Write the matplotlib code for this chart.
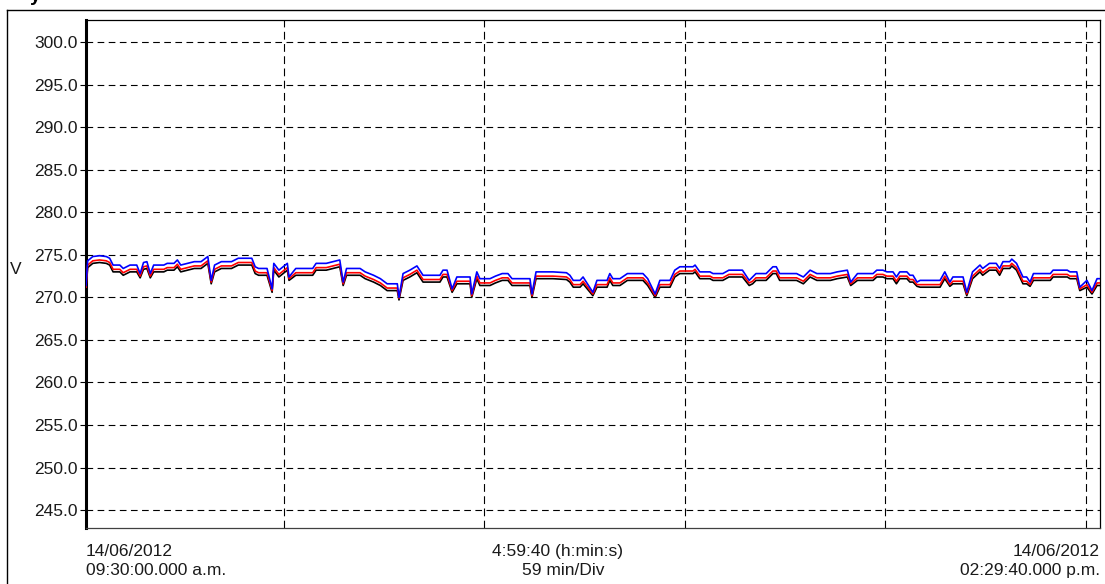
import matplotlib
matplotlib.use("Agg")
import matplotlib.pyplot as plt
from matplotlib.lines import Line2D

plt.rcParams['font.family'] = ['Liberation Sans', 'DejaVu Sans']

# time in minutes from 09:30:00
t_min = [0, 0.5, 2, 4, 6, 7, 8, 10, 11, 13,
         15, 16, 17, 18, 19, 20, 23, 24, 26, 27,
         28, 30, 32, 34, 36, 37, 38, 40, 43, 45,
         49, 50, 51, 53.5, 55, 55.5, 57, 59.5, 60, 62,
         67, 68, 71, 73, 75, 76, 77, 81, 82.5, 85,
         86, 87, 89, 92, 92.5, 93.7, 95.7, 97.8, 99.6, 104.6,
         105.5, 106.7, 108.2, 109.6, 113.5, 114, 115.5, 116.4, 119.4, 121,
         123, 124.7, 125.9, 131.2, 131.8, 133, 138, 142, 143, 144,
         146, 146.9, 149.8, 151, 154, 154.8, 155.7, 157.8, 160, 164.6,
         166, 168.2, 169.6, 172.6, 174, 175.5, 179.4, 180, 181.4, 184.4,
         185.3, 188.2, 190, 194, 196, 197, 198, 201, 203, 204,
         205, 210, 212, 214, 216, 220, 222, 225, 226, 228,
         232.6, 233.7, 235.5, 236.7, 238.5, 239.5, 240.5, 242.6, 243.5, 244.4,
         245.6, 246.5, 252.4, 253.8, 255.3, 256.2, 259.2, 260.3, 262, 264.2,
         265, 267, 269, 270, 271, 273, 273.6, 275, 276.9, 278,
         279, 280, 285, 285.8, 290, 290.8, 292.8, 293.7, 295.8, 297.3,
         298.8, 299.7]

v_blue = [271.4, 274.3, 274.8, 274.9, 274.8, 274.6, 273.8, 273.8, 273.4, 273.8,
          273.8, 272.8, 274.1, 274.2, 272.8, 273.8, 273.8, 274.0, 274.0, 274.4,
          273.8, 274.0, 274.2, 274.2, 274.8, 272.0, 273.8, 274.2, 274.2, 274.6,
          274.6, 273.6, 273.4, 273.4, 271.0, 274.0, 273.2, 274.0, 272.4, 273.4,
          273.4, 274.0, 274.0, 274.2, 274.4, 271.8, 273.4, 273.4, 273.0, 272.6,
          272.4, 272.2, 271.6, 271.6, 270.0, 272.8, 273.2, 273.7, 272.6, 272.6,
          273.2, 273.2, 271.0, 272.4, 272.4, 270.4, 273.0, 272.2, 272.2, 272.5,
          272.8, 272.8, 272.2, 272.2, 270.4, 273.0, 273.0, 272.9, 272.6, 272.0,
          272.0, 272.4, 270.6, 272.0, 272.0, 272.8, 272.2, 272.2, 272.8, 272.8,
          272.2, 270.4, 272.0, 272.0, 273.2, 273.6, 273.6, 273.8, 273.0, 273.0,
          272.8, 272.8, 273.2, 273.2, 272.0, 272.4, 272.8, 272.8, 273.6, 273.6,
          272.8, 272.8, 272.4, 273.2, 272.8, 272.8, 273.0, 273.2, 271.8, 272.8,
          272.8, 273.2, 273.2, 273.0, 273.0, 272.4, 273.0, 273.0, 272.6, 272.6,
          271.8, 272.0, 272.0, 273.0, 271.8, 272.4, 272.4, 270.6, 273.0, 273.8,
          273.4, 274.0, 274.0, 273.4, 274.2, 274.2, 274.5, 274.0, 272.4, 272.4,
          271.8, 272.8, 272.8, 273.2, 273.2, 273.0, 273.0, 271.2, 272.0, 270.8,
          272.2, 272.2]

v_red = [271.2, 273.8, 274.3, 274.4, 274.3, 274.1, 273.3, 273.3, 272.9, 273.3,
         273.3, 272.5, 273.6, 273.7, 272.5, 273.3, 273.3, 273.5, 273.5, 273.9,
         273.3, 273.5, 273.7, 273.7, 274.3, 271.8, 273.3, 273.7, 273.7, 274.1,
         274.1, 273.1, 272.9, 272.9, 270.8, 273.5, 272.7, 273.5, 272.2, 272.9,
         272.9, 273.5, 273.5, 273.7, 273.9, 271.6, 272.9, 272.9, 272.5, 272.1,
         271.9, 271.7, 271.1, 271.1, 269.9, 272.3, 272.7, 273.2, 272.1, 272.1,
         272.7, 272.7, 270.8, 271.9, 271.9, 270.2, 272.5, 271.7, 271.7, 272.0,
         272.3, 272.3, 271.7, 271.7, 270.2, 272.5, 272.5, 272.4, 272.1, 271.5,
         271.5, 271.9, 270.4, 271.5, 271.5, 272.3, 271.7, 271.7, 272.3, 272.3,
         271.7, 270.2, 271.5, 271.5, 272.7, 273.1, 273.1, 273.3, 272.5, 272.5,
         272.3, 272.3, 272.7, 272.7, 271.7, 271.9, 272.3, 272.3, 273.1, 273.1,
         272.3, 272.3, 271.9, 272.7, 272.3, 272.3, 272.5, 272.7, 271.6, 272.3,
         272.3, 272.7, 272.7, 272.5, 272.5, 271.9, 272.5, 272.5, 272.1, 272.1,
         271.5, 271.5, 271.5, 272.5, 271.5, 271.9, 271.9, 270.4, 272.5, 273.3,
         272.9, 273.5, 273.5, 272.9, 273.7, 273.7, 274.0, 273.5, 271.9, 271.9,
         271.5, 272.3, 272.3, 272.7, 272.7, 272.5, 272.5, 271.0, 271.5, 270.6,
         271.7, 271.7]

v_black = [271.0, 273.5, 274.0, 274.1, 274.0, 273.8, 273.0, 273.0, 272.6, 273.0,
           273.0, 272.3, 273.3, 273.4, 272.3, 273.0, 273.0, 273.2, 273.2, 273.6,
           273.0, 273.2, 273.4, 273.4, 274.0, 271.6, 273.0, 273.4, 273.4, 273.8,
           273.8, 272.8, 272.6, 272.6, 270.6, 273.2, 272.4, 273.2, 272.0, 272.6,
           272.6, 273.2, 273.2, 273.4, 273.6, 271.4, 272.6, 272.6, 272.2, 271.8,
           271.6, 271.4, 270.8, 270.8, 269.7, 272.0, 272.4, 272.9, 271.8, 271.8,
           272.4, 272.4, 270.6, 271.6, 271.6, 270.0, 272.2, 271.4, 271.4, 271.7,
           272.0, 272.0, 271.4, 271.4, 270.0, 272.2, 272.2, 272.1, 271.8, 271.2,
           271.2, 271.6, 270.2, 271.2, 271.2, 272.0, 271.4, 271.4, 272.0, 272.0,
           271.4, 270.0, 271.2, 271.2, 272.4, 272.8, 272.8, 273.0, 272.2, 272.2,
           272.0, 272.0, 272.4, 272.4, 271.4, 271.6, 272.0, 272.0, 272.8, 272.8,
           272.0, 272.0, 271.6, 272.4, 272.0, 272.0, 272.2, 272.4, 271.4, 272.0,
           272.0, 272.4, 272.4, 272.2, 272.2, 271.6, 272.2, 272.2, 271.8, 271.8,
           271.3, 271.2, 271.2, 272.2, 271.3, 271.6, 271.6, 270.2, 272.2, 273.0,
           272.6, 273.2, 273.2, 272.6, 273.4, 273.4, 273.7, 273.2, 271.6, 271.6,
           271.3, 272.0, 272.0, 272.4, 272.4, 272.2, 272.2, 270.8, 271.2, 270.4,
           271.4, 271.4]

y_ticks = [245.0, 250.0, 255.0, 260.0, 265.0, 270.0, 275.0, 280.0, 285.0,
           290.0, 295.0, 300.0]
x_grid = [58.4, 117.7, 177.0, 236.2, 295.5]
start_label = ["14/06/2012", "09:30:00.000 a.m."]
end_label = ["14/06/2012", "02:29:40.000 p.m."]
mid_label = ["4:59:40 (h:min:s)", "59 min/Div"]
y_unit = "V"

W, H = 1105, 584
fig = plt.figure(figsize=(W / 100, H / 100), dpi=100)
ax = fig.add_axes([86 / W, 1 - 528 / H, (1100 - 86) / W, (528 - 20) / H])

ax.plot(t_min, v_black, color='black', lw=1.2, zorder=3)
ax.plot(t_min, v_red, color='#ff0000', lw=1.2, zorder=4)
ax.plot(t_min, v_blue, color='#0000ff', lw=1.2, zorder=5)

ax.set_xlim(0, 299.67)
ax.set_ylim(242.9, 302.6)
ax.set_yticks(y_ticks)
ax.set_yticklabels([f"{v:.1f}" for v in y_ticks])
ax.set_xticks(x_grid)
ax.set_xticklabels([])
ax.tick_params(axis='x', length=0)
ax.tick_params(axis='y', length=4, width=0.8, labelsize=12.5, pad=2,
               labelcolor='#1a1a1a')
for v in y_ticks:
    ax.axhline(v, color='black', lw=0.8, ls=(0, (6, 4)), zorder=1)
for t in x_grid:
    ax.axvline(t, color='black', lw=0.8, ls=(0, (7, 4)), zorder=1)

ax.spines['left'].set_linewidth(2.2)
for s in ['top', 'right', 'bottom']:
    ax.spines[s].set_linewidth(0.9)
ax.spines['bottom'].set_color('#404040')

# outer frame
fig.add_artist(Line2D([7 / W, 7 / W], [0, 1 - 10 / H], color='black', lw=1.0))
fig.add_artist(Line2D([7 / W, 1], [1 - 10 / H, 1 - 10 / H], color='black', lw=1.0))

fs = 12.5
col = '#1a1a1a'
# clipped title fragment at the very top edge
fig.text(30 / W, 1 - 1 / H, "y", fontsize=14, fontweight='bold', color='black',
         ha='left', va='baseline')
fig.text(10 / W, 1 - 270 / H, y_unit, fontsize=fs, color=col, ha='left', va='center')
fig.text(86 / W, 1 - 556 / H, start_label[0], fontsize=fs, color=col, ha='left', va='baseline')
fig.text(86 / W, 1 - 575 / H, start_label[1], fontsize=fs, color=col, ha='left', va='baseline')
fig.text(1100 / W, 1 - 556 / H, end_label[0], fontsize=fs, color=col, ha='right', va='baseline')
fig.text(1100 / W, 1 - 575 / H, end_label[1], fontsize=fs, color=col, ha='right', va='baseline')
fig.text(558 / W, 1 - 556 / H, mid_label[0], fontsize=fs, color=col, ha='center', va='baseline')
fig.text(563 / W, 1 - 575 / H, mid_label[1], fontsize=fs, color=col, ha='center', va='baseline')

fig.savefig("out.png", dpi=100)
